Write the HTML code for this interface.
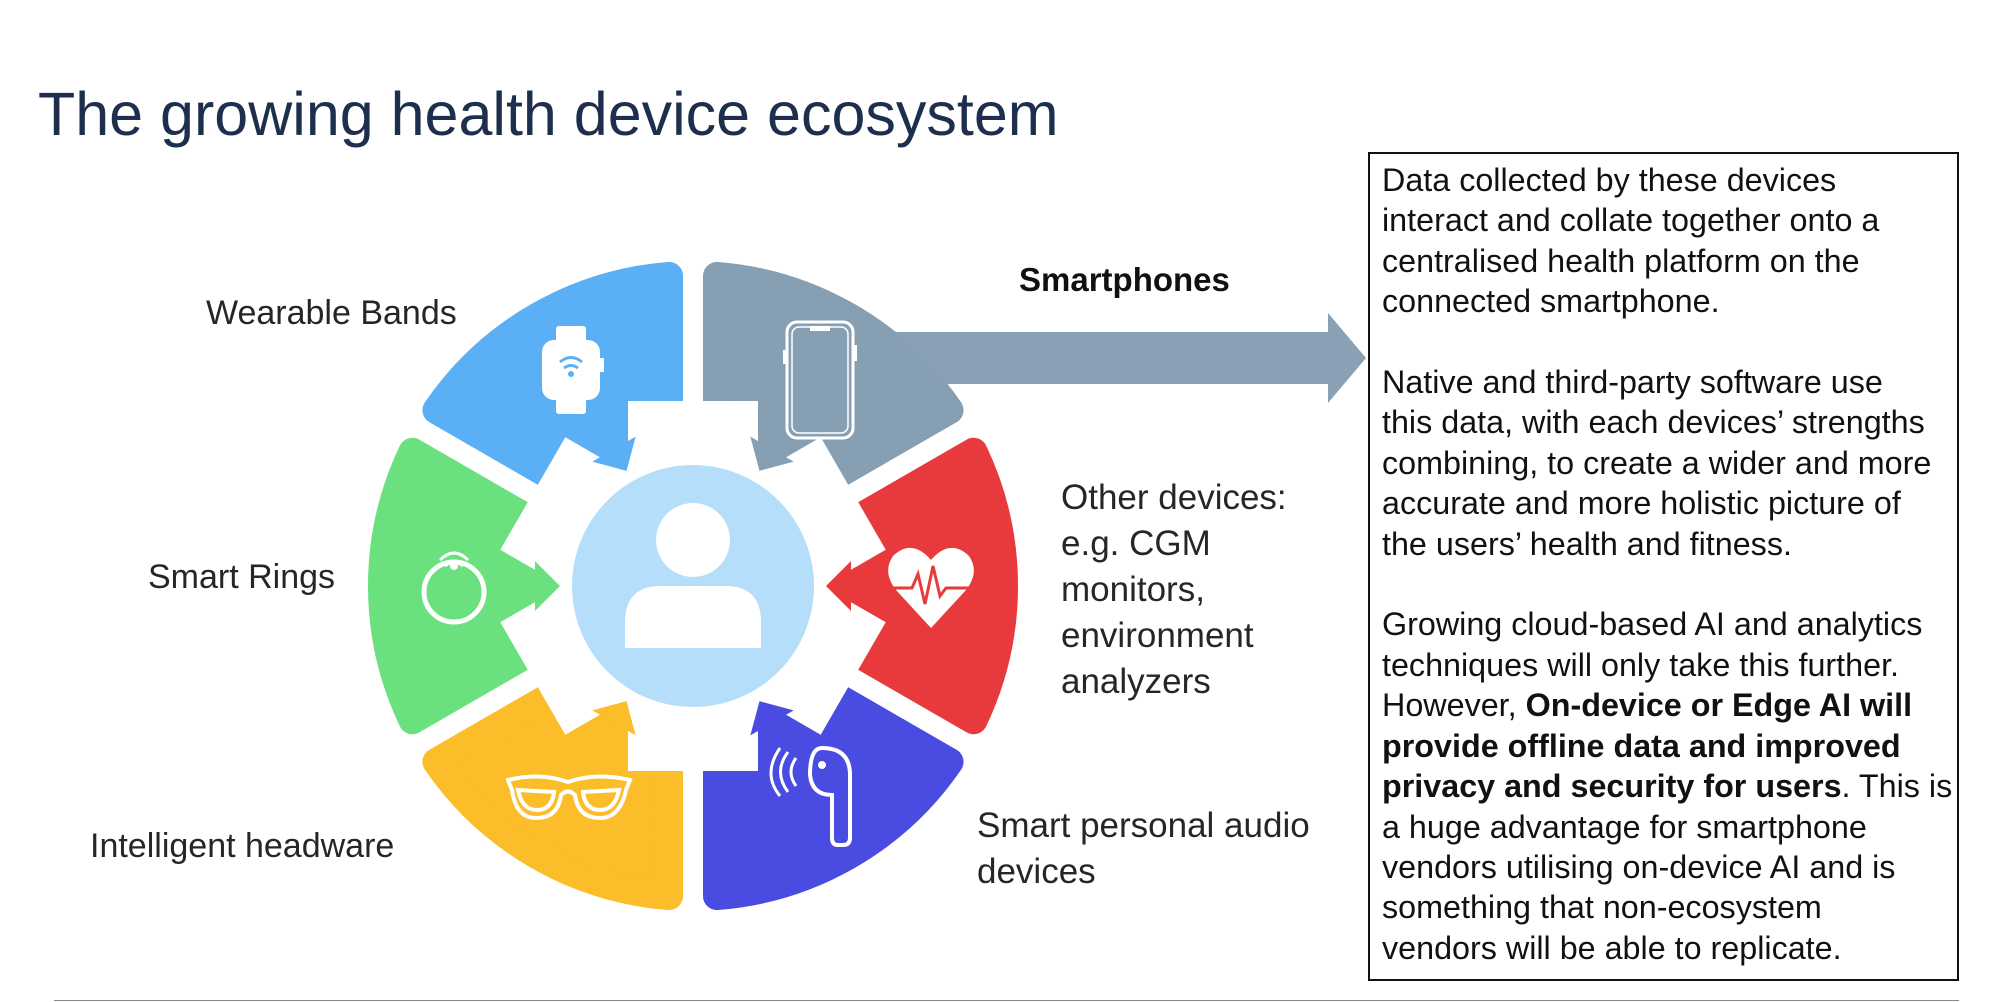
<!DOCTYPE html>
<html><head><meta charset="utf-8"><style>
body{margin:0;width:2000px;height:1002px;background:#fff;position:relative;overflow:hidden;font-family:"Liberation Sans",sans-serif}
.t{position:absolute;white-space:nowrap;color:#262626}
#title{left:38px;top:78px;font-size:61px;color:#1e2f4d;line-height:72px}
.lbl{font-size:34px;line-height:46px}
#box{position:absolute;left:1368px;top:152px;width:591px;height:829px;border:2px solid #111;box-sizing:border-box}
#bt{position:absolute;left:1382px;top:160px;font-size:32.3px;line-height:40.4px;color:#111;white-space:nowrap}
#rule{position:absolute;left:54px;top:1000px;width:1905px;height:1px;background:#888}
</style></head><body>
<div class="t" id="title">The growing health device ecosystem</div>
<svg id="wheel" width="2000" height="1002" style="position:absolute;left:0;top:0"></svg>
<div class="t lbl" style="left:206px;top:290px">Wearable Bands</div>
<div class="t lbl" style="left:148px;top:554px">Smart Rings</div>
<div class="t lbl" style="left:90px;top:823px">Intelligent headware</div>
<div class="t lbl" style="left:1019px;top:257px;font-weight:bold;color:#111;font-size:33px">Smartphones</div>
<div class="t lbl" style="left:1061px;top:475px;font-size:35px">Other devices:<br>e.g. CGM<br>monitors,<br>environment<br>analyzers</div>
<div class="t lbl" style="left:977px;top:803px;font-size:35px">Smart personal audio<br>devices</div>
<div id="box"></div>
<div id="bt">Data collected by these devices<br>interact and collate together onto a<br>centralised health platform on the<br>connected smartphone.<br><br>Native and third-party software use<br>this data, with each devices’ strengths<br>combining, to create a wider and more<br>accurate and more holistic picture of<br>the users’ health and fitness.<br><br>Growing cloud-based AI and analytics<br>techniques will only take this further.<br>However, <b>On-device or Edge AI will</b><br><b>provide offline data and improved</b><br><b>privacy and security for users</b>. This is<br>a huge advantage for smartphone<br>vendors utilising on-device AI and is<br>something that non-ecosystem<br>vendors will be able to replicate.</div>
<div id="rule"></div>
<script>
var cx=693,cy=586,R=325,ri=120,s='';
function P(r,a){a=a*Math.PI/180;return [cx+r*Math.cos(a),cy-r*Math.sin(a)];}
var segs=[[90,150,'#5aaff5'],[150,210,'#6be07e'],[210,270,'#fbbd2a'],[270,330,'#4a4be0'],[330,390,'#e83a3c'],[30,90,'#879fb3']];
s+='<polygon points="880,332 1328,332 1328,313 1366,358 1328,403 1328,384 880,384" fill="#8aa0b4"/>';
segs.forEach(function(g){
 var o=14,Ro=R-o,Ri=ri+o;
 var da1=(10+o)/Ro*180/Math.PI, db1=(10+o)/Ri*180/Math.PI;
 var a=g[0],b=g[1];
 var p1=P(Ro,a+da1),p2=P(Ro,b-da1),p3=P(Ri,b-db1),p4=P(Ri,a+db1);
 s+='<path d="M'+p1+' A'+Ro+' '+Ro+' 0 0 0 '+p2+' L'+p3+' A'+Ri+' '+Ri+' 0 0 1 '+p4+'Z" fill="'+g[2]+'" stroke="'+g[2]+'" stroke-width="28" stroke-linejoin="round"/>';
});
for(var k=0;k<6;k++){var q=P(R+20,30+60*k);s+='<line x1="'+cx+'" y1="'+cy+'" x2="'+q[0]+'" y2="'+q[1]+'" stroke="#fff" stroke-width="20"/>';}
s+='<circle cx="'+cx+'" cy="'+cy+'" r="152" fill="#fff"/>';
for(var k=0;k<6;k++){var ang=30+60*k;s+='<rect x="-65" y="-185" width="130" height="60" fill="#fff" transform="translate('+cx+','+cy+') rotate('+(90-ang)+')"/>';}
segs.forEach(function(g){var m=(g[0]+g[1])/2;var a=P(160,m-9),b=P(160,m+9),c=P(133,m);s+='<polygon points="'+a+' '+b+' '+c+'" fill="'+g[2]+'"/>';});
s+='<circle cx="'+cx+'" cy="'+cy+'" r="121" fill="#b5defb"/>';
s+='<circle cx="693" cy="540" r="37" fill="#fff"/><path d="M625,648 L625,622 Q625,586 661,586 L725,586 Q761,586 761,622 L761,648Z" fill="#fff"/>';
s+='<g fill="#fff"><rect x="556" y="326" width="30" height="18" rx="3"/><rect x="556" y="396" width="30" height="18" rx="3"/><rect x="542" y="340" width="58" height="60" rx="12"/><rect x="598" y="358" width="6" height="14"/></g><path d="M560,362 q11,-9 22,0 M564,368 q7,-5 14,0" stroke="#5aaff5" stroke-width="3" fill="none"/><circle cx="571" cy="374" r="3" fill="#5aaff5"/>';
s+='<rect x="787" y="322" width="66" height="116" rx="10" fill="none" stroke="#fff" stroke-width="3"/><rect x="792" y="327" width="56" height="106" rx="7" fill="none" stroke="#fff" stroke-width="1.5"/><rect x="810" y="326" width="20" height="5" fill="#fff"/><rect x="853" y="345" width="4" height="16" fill="#fff"/><rect x="783" y="350" width="4" height="14" fill="#fff"/>';
s+='<circle cx="454" cy="592" r="30" fill="none" stroke="#fff" stroke-width="5"/><path d="M440,560 q14,-14 28,0 M445,566 q9,-8 18,0" stroke="#fff" stroke-width="3" fill="none"/><circle cx="454" cy="566" r="4" fill="#fff"/>';
s+='<path d="M931,628 L896,590 Q882,572 893,556 Q912,538 931,560 Q950,538 969,556 Q980,572 966,590Z" fill="#fff"/><polyline points="892,588 912,588 918,574 925,604 933,566 940,596 946,588 970,588" fill="none" stroke="#e83a3c" stroke-width="3"/>';
s+='<g fill="none" stroke="#fff" stroke-width="4"><path d="M508,780 Q540,772 568,782 Q596,772 630,780 L626,790 Q620,818 600,818 Q578,818 575,795 Q568,788 561,795 Q558,818 536,818 Q516,818 512,790Z"/><path d="M518,790 Q522,810 537,810 Q552,810 554,792 Z M583,792 Q585,810 600,810 Q615,810 619,790Z"/></g>';
s+='<g fill="none" stroke="#fff" stroke-width="4"><path d="M822,748 Q850,748 850,775 L850,838 Q850,845 843,845 L838,845 Q832,845 832,838 L832,795 Q812,795 810,775 Q810,748 822,748Z"/><path d="M796,758 q-10,14 0,28 M788,752 q-15,20 0,40 M780,748 q-18,26 0,48" stroke-width="3"/></g><circle cx="822" cy="765" r="4" fill="#fff"/>';
document.getElementById('wheel').innerHTML=s;
</script>
</body></html>
